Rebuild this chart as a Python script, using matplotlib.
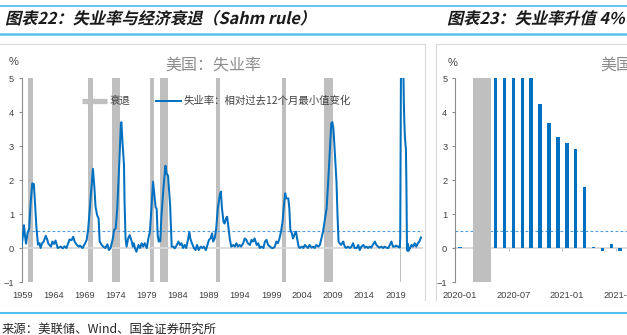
import matplotlib
matplotlib.use('Agg')
import matplotlib.pyplot as plt
from matplotlib.lines import Line2D
from matplotlib.patches import PathPatch
from matplotlib.textpath import TextPath
from matplotlib.font_manager import FontProperties
from matplotlib.transforms import Affine2D

plt.rcParams['font.family'] = ['Noto Sans CJK SC', 'DejaVu Sans']

W, H = 627, 335

# 失业率：相对过去12个月最小值变化 (%)
sahm_dates = [
    '1959-04', '1959-06', '1959-09', '1959-11', '1960-01', '1960-04', '1960-07', '1960-10',
    '1961-01', '1961-04', '1961-06', '1961-09', '1961-12', '1962-03', '1962-05', '1962-08',
    '1962-11', '1963-03', '1963-06', '1963-08', '1964-01', '1964-04', '1964-07', '1964-10',
    '1965-02', '1965-05', '1965-08', '1965-12', '1966-03', '1966-07', '1967-01', '1967-05',
    '1967-08', '1967-11', '1968-03', '1968-07', '1968-09', '1969-02', '1969-07', '1969-10',
    '1970-01', '1970-04', '1970-07', '1970-10', '1971-01', '1971-03', '1971-06', '1971-09',
    '1971-11', '1972-03', '1972-06', '1972-10', '1973-02', '1973-05', '1973-08', '1973-12',
    '1974-03', '1974-06', '1974-09', '1975-01', '1975-04', '1975-05', '1975-07', '1975-10',
    '1975-11', '1976-01', '1976-03', '1976-06', '1976-09', '1977-01', '1977-03', '1977-05',
    '1977-07', '1977-10', '1978-02', '1978-05', '1978-08', '1978-11', '1979-02', '1979-06',
    '1979-09', '1979-12', '1980-03', '1980-06', '1980-08', '1980-11', '1981-01', '1981-03',
    '1981-05', '1981-08', '1981-10', '1982-02', '1982-06', '1982-08', '1982-11', '1983-03',
    '1983-06', '1983-09', '1983-12', '1984-04', '1984-07', '1984-10', '1985-01', '1985-04',
    '1985-07', '1985-10', '1986-02', '1986-04', '1986-06', '1986-09', '1987-01', '1987-04',
    '1987-07', '1987-10', '1988-02', '1988-05', '1988-08', '1988-12', '1989-03', '1989-06',
    '1989-09', '1989-12', '1990-02', '1990-05', '1990-08', '1990-11', '1991-03', '1991-05',
    '1991-07', '1991-10', '1991-12', '1992-03', '1992-05', '1992-07', '1992-10', '1993-01',
    '1993-05', '1993-08', '1993-11', '1994-02', '1994-05', '1994-08', '1994-12', '1995-03',
    '1995-06', '1995-09', '1996-01', '1996-04', '1996-07', '1996-10', '1997-02', '1997-05',
    '1997-08', '1997-11', '1998-03', '1998-06', '1998-09', '1998-12', '1999-04', '1999-07',
    '1999-10', '2000-01', '2000-04', '2000-07', '2000-10', '2001-01', '2001-04', '2001-06',
    '2001-09', '2001-11', '2002-03', '2002-05', '2002-07', '2002-10', '2002-12', '2003-04',
    '2003-06', '2003-08', '2003-11', '2004-01', '2004-05', '2004-08', '2004-11', '2005-02',
    '2005-05', '2005-08', '2005-12', '2006-03', '2006-06', '2006-09', '2007-01', '2007-04',
    '2007-07', '2007-10', '2008-01', '2008-05', '2008-08', '2008-11', '2009-02', '2009-04',
    '2009-06', '2009-08', '2009-12', '2010-02', '2010-04', '2010-06', '2010-09', '2011-01',
    '2011-04', '2011-07', '2011-10', '2012-02', '2012-05', '2012-08', '2012-11', '2013-03',
    '2013-06', '2013-09', '2013-12', '2014-04', '2014-07', '2014-10', '2015-01', '2015-04',
    '2015-07', '2015-10', '2016-02', '2016-05', '2016-08', '2016-11', '2017-03', '2017-06',
    '2017-09', '2017-12', '2018-04', '2018-07', '2018-10', '2019-01', '2019-04', '2019-07',
    '2019-10', '2020-01', '2020-02', '2020-03', '2020-04', '2020-05', '2020-06', '2020-07',
    '2020-08', '2020-09', '2020-10', '2020-11', '2020-12', '2021-01', '2021-02', '2021-03',
    '2021-04', '2021-05', '2021-06', '2021-07', '2021-10', '2022-01', '2022-04', '2022-07',
    '2022-10', '2023-01', '2023-04', '2023-07',
]
sahm_values = [
    0.03, 0.25, 0.67, 0.35, 0.13, 0.45, 0.57, 1.35,
    1.90, 1.88, 1.40, 0.60, 0.10, 0.14, 0.00, 0.14,
    0.19, 0.36, 0.24, 0.13, 0.04, 0.19, 0.12, 0.22,
    0.00, 0.02, 0.04, -0.01, 0.05, 0.00, 0.25, 0.23,
    0.33, 0.18, 0.09, 0.04, 0.07, 0.00, 0.14, 0.24,
    0.57, 1.16, 1.74, 2.33, 1.75, 1.22, 0.97, 0.87,
    0.19, 0.09, 0.04, 0.00, 0.11, -0.06, 0.00, 0.24,
    0.53, 0.58, 1.17, 2.54, 3.66, 3.70, 3.13, 2.44,
    1.40, 0.28, 0.04, 0.28, 0.38, 0.19, 0.04, 0.14,
    0.00, -0.11, 0.09, 0.00, 0.14, 0.04, 0.14, 0.00,
    0.28, 0.48, 1.17, 1.95, 1.66, 1.20, 1.15, 0.38,
    0.19, 0.20, 0.87, 1.75, 2.42, 2.20, 2.12, 1.26,
    0.04, 0.04, -0.01, 0.09, 0.19, 0.09, 0.14, 0.00,
    0.09, 0.00, 0.28, 0.47, 0.28, 0.14, 0.00, -0.06,
    0.09, -0.06, 0.04, 0.00, 0.04, -0.06, 0.09, 0.24,
    0.28, 0.43, 0.19, 0.28, 0.58, 1.17, 1.56, 1.66,
    1.17, 0.77, 0.72, 0.87, 0.92, 0.68, 0.28, 0.04,
    0.09, 0.04, 0.14, 0.04, 0.09, 0.04, 0.14, 0.28,
    0.24, 0.14, 0.09, 0.24, 0.19, 0.28, 0.09, 0.14,
    0.00, 0.04, 0.00, 0.19, 0.24, 0.09, 0.04, 0.00,
    0.00, 0.04, 0.19, 0.14, 0.28, 0.48, 0.77, 1.17,
    1.61, 1.46, 1.46, 1.17, 0.53, 0.43, 0.28, 0.43,
    0.48, 0.28, 0.04, 0.00, 0.04, 0.00, 0.09, 0.04,
    0.00, 0.09, 0.01, 0.04, 0.00, 0.09, 0.04, 0.09,
    0.28, 0.48, 0.77, 1.17, 1.95, 2.83, 3.67, 3.70,
    3.52, 3.03, 1.95, 0.97, 0.19, 0.14, 0.09, 0.19,
    0.04, 0.00, 0.04, 0.00, 0.04, 0.14, 0.00, 0.00,
    0.09, -0.06, 0.04, 0.09, 0.01, 0.04, 0.00, 0.04,
    0.01, 0.09, 0.19, 0.09, 0.04, 0.01, 0.04, 0.00,
    0.04, 0.01, 0.00, 0.09, 0.19, 0.04, 0.04, 0.07,
    0.04, 0.04, 0.01, 0.27, 4.03, 7.27, 9.47, 7.97,
    6.37, 5.33, 4.25, 3.69, 3.27, 3.08, 2.90, 1.80,
    0.02, -0.08, 0.12, -0.08, 0.00, 0.09, 0.04, 0.14,
    0.04, 0.14, 0.19, 0.31,
]

# NBER 衰退区间
recession_start = ['1960-04', '1969-12', '1973-11', '1980-01', '1981-07',
                   '1990-07', '2001-03', '2007-12', '2020-02']
recession_end = ['1961-02', '1970-11', '1975-03', '1980-07', '1982-11',
                 '1991-03', '2001-11', '2009-06', '2020-04']

sahm_threshold = 0.5
year_ticks = [1959, 1964, 1969, 1974, 1979, 1984, 1989, 1994, 1999, 2004, 2009, 2014, 2019]

# 图表23 的月度区间
recent_first, recent_last = '2020-01', '2021-07'
recent_ticks = ['2020-01', '2020-07', '2021-01', '2021-07']

BLUE = '#0070C0'
GREY_BAR = '#BFBFBF'
AXIS = '#8C8C8C'
TXT = '#404040'
DASH = '#4F9BE0'
TITLE_LINE = '#56C0EC'
num_font = 'Liberation Sans'


def to_year(s):
    y, m = s.split('-')
    return int(y) + (int(m) - 1) / 12.0


def to_month_idx(s, base='2020-01'):
    y, m = s.split('-')
    by, bm = base.split('-')
    return (int(y) - int(by)) * 12 + int(m) - int(bm)


def px_box(x0, y0, x1, y1):
    # 像素坐标(左上原点) -> figure 比例
    return [x0 / W, 1 - y1 / H, (x1 - x0) / W, (y1 - y0) / H]


fig = plt.figure(figsize=(W / 100, H / 100), dpi=100)
pix = Affine2D().scale(1.0 / W, 1.0 / H) + fig.transFigure


def hline(y, x0, x1, color, lw):
    fig.add_artist(Line2D([x0, x1], [H - y, H - y], transform=pix, color=color, lw=lw))


def vline(x, y0, y1, color, lw):
    fig.add_artist(Line2D([x, x], [H - y0, H - y1], transform=pix, color=color, lw=lw))


def slanted_title(txt, x, y, size):
    fp = FontProperties(family='Noto Sans CJK SC', weight='bold')
    tp = TextPath((0, 0), txt, size=size, prop=fp)
    tr = Affine2D().skew_deg(13, 0).translate(x, H - y) + pix
    fig.add_artist(PathPatch(tp, transform=tr, facecolor='#1a1a1a', edgecolor='none'))


""" 标题栏、边框、脚注 """
hline(5.5, 0, W, TITLE_LINE, 1.3)
hline(34, 0, W, TITLE_LINE, 1.8)
hline(313, 0, W, TITLE_LINE, 1.5)
slanted_title('图表22：失业率与经济衰退（Sahm rule）', 5, 24, 16.2)
slanted_title('图表23：失业率升值 4%', 447, 24, 16.2)

hline(43.5, 0, 425, '#D9D9D9', 0.8)
vline(425, 43.5, 300, '#D9D9D9', 0.8)
hline(43.5, 435.5, W, '#D9D9D9', 0.8)
vline(435.5, 43.5, 300, '#D9D9D9', 0.8)

fig.text(2 / W, 1 - 329 / H, '来源：美联储、Wind、国金证券研究所', fontsize=8.9,
         color='#262626', va='center', ha='left')


""" [左图] 美国：失业率 """
ax = fig.add_axes(px_box(21.7, 78, 423, 282))
x_sahm = [to_year(d) for d in sahm_dates]

for s, e in zip(recession_start, recession_end):
    ax.axvspan(to_year(s), to_year(e), color=GREY_BAR, lw=0, zorder=1)

ax.axhline(0, color='#D9D9D9', lw=1.3, zorder=1.5)
ax.axhline(sahm_threshold, color=DASH, lw=0.8, ls=(0, (2.5, 2)), zorder=1.6)
ax.plot(x_sahm, sahm_values, color=BLUE, lw=1.45, zorder=3)

ax.set_xlim(1959.3, 2023.83)
ax.set_ylim(-1, 5)
ax.set_yticks(range(-1, 6))
ax.set_xticks([y + 0.4 for y in year_ticks])
ax.set_xticklabels([str(y) for y in year_ticks])

for side in ['top', 'right', 'bottom']:
    ax.spines[side].set_visible(False)
ax.spines['left'].set_color(AXIS)
ax.spines['left'].set_linewidth(0.8)
ax.tick_params(axis='x', length=0, pad=6.5, labelsize=6.7, labelcolor=TXT)
ax.tick_params(axis='y', length=2.5, width=0.8, color=AXIS, pad=3, labelsize=6.7, labelcolor=TXT)
for lab in ax.get_xticklabels() + ax.get_yticklabels():
    lab.set_fontfamily(num_font)

fig.text(14 / W, 1 - 62 / H, '%', fontsize=8, color=TXT, ha='center', va='center',
         family=num_font)
fig.text(213 / W, 1 - 65 / H, '美国：失业率', fontsize=11.5, color='#8C8C8C',
         ha='center', va='center')

handles = [Line2D([], [], color=GREY_BAR, lw=3.8, solid_capstyle='butt'),
           Line2D([], [], color=BLUE, lw=1.4)]
ax.legend(handles, ['衰退', '失业率：相对过去12个月最小值变化'], ncol=2, frameon=False,
          loc='center left', bbox_to_anchor=(82 / W, 1 - 101 / H), bbox_transform=fig.transFigure,
          fontsize=7.5, labelcolor=TXT, handlelength=2.4, handletextpad=0.3,
          columnspacing=2.4, borderpad=0, borderaxespad=0)


""" [右图] 2020 年以来月度值（右侧超出画幅）"""
ax2 = fig.add_axes(px_box(455, 78, 455 + 24.06 * 8.9, 282))
first_i, last_i = sahm_dates.index(recent_first), sahm_dates.index(recent_last)
recent_dates = sahm_dates[first_i:last_i + 1]
recent_values = sahm_values[first_i:last_i + 1]
recent_x = [to_month_idx(d) for d in recent_dates]

ax2.bar(recent_x, recent_values, width=0.4, color=BLUE, zorder=2)
for s, e in zip(recession_start, recession_end):
    if s >= recent_first:
        ax2.axvspan(to_month_idx(s) + 0.5, to_month_idx(e) + 0.5, color=GREY_BAR, lw=0, zorder=3)
ax2.axhline(sahm_threshold, color=DASH, lw=0.8, ls=(0, (2.5, 2)), zorder=1.6)

ax2.set_xlim(-0.56, 23.5)
ax2.set_ylim(-1, 5)
ax2.set_yticks(range(-1, 6))
ax2.set_xticks([to_month_idx(t) for t in recent_ticks])
ax2.set_xticklabels(recent_ticks)

for side in ['top', 'right', 'bottom']:
    ax2.spines[side].set_visible(False)
ax2.spines['left'].set_color(AXIS)
ax2.spines['left'].set_linewidth(0.8)
ax2.tick_params(axis='x', length=0, pad=6.5, labelsize=6.7, labelcolor=TXT)
ax2.tick_params(axis='y', length=2.5, width=0.8, color=AXIS, pad=3, labelsize=6.7, labelcolor=TXT)
for lab in ax2.get_xticklabels() + ax2.get_yticklabels():
    lab.set_fontfamily(num_font)

# 零轴及半年分隔刻度
zero_ax = ax2.secondary_xaxis(1 / 6.0)
zero_ax.set_xticks([to_month_idx(t) + 5.5 for t in recent_ticks])
zero_ax.tick_params(length=2.5, width=0.8, color='#BFBFBF', labelbottom=False, labeltop=False)
for sp in zero_ax.spines.values():
    sp.set_color('#D9D9D9')
    sp.set_linewidth(1.3)

fig.text(453 / W, 1 - 63 / H, '%', fontsize=8, color=TXT, ha='center', va='center',
         family=num_font)
fig.text(600 / W, 1 - 65 / H, '美国：失业率', fontsize=11.5, color='#8C8C8C',
         ha='left', va='center')

fig.savefig('out.png', dpi=100)
